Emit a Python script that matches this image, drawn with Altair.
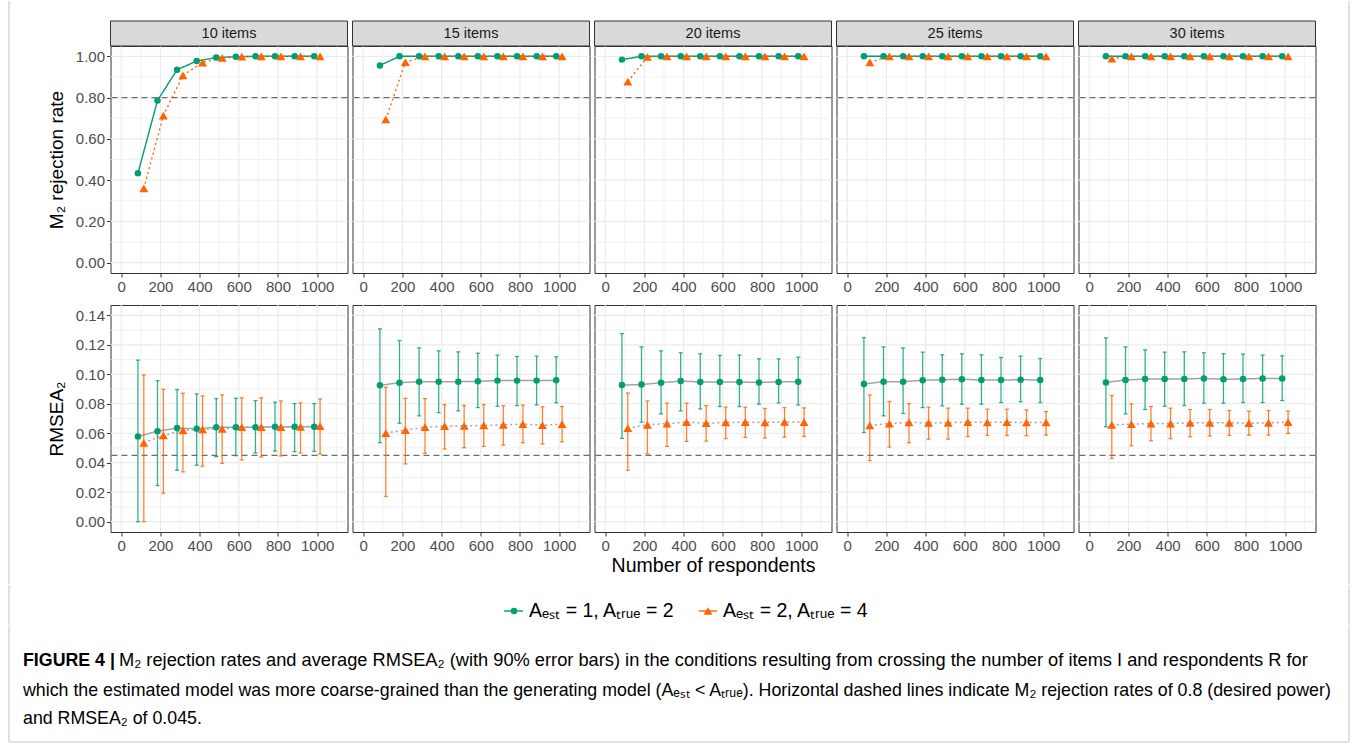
import altair as alt
import pandas as pd

# ---------------- data ----------------
R = [100, 200, 300, 400, 500, 600, 700, 800, 900, 1000]
ITEMS = ["10 items", "15 items", "20 items", "25 items", "30 items"]
SERIES = ["Aₑₛₜ = 1, Aₜᵣᵤₑ = 2", "Aₑₛₜ = 2, Aₜᵣᵤₑ = 4"]

# M2 rejection rate, one row per number of items
M2_S1 = [
    [0.433, 0.786, 0.935, 0.977, 0.994, 0.998, 1.0, 1.0, 1.0, 1.0],
    [0.956, 1.0, 1.0, 1.0, 1.0, 1.0, 1.0, 1.0, 1.0, 1.0],
    [0.984, 1.0, 1.0, 1.0, 1.0, 1.0, 1.0, 1.0, 1.0, 1.0],
    [1.0, 1.0, 1.0, 1.0, 1.0, 1.0, 1.0, 1.0, 1.0, 1.0],
    [1.0, 1.0, 1.0, 1.0, 1.0, 1.0, 1.0, 1.0, 1.0, 1.0],
]
M2_S2 = [
    [0.360, 0.713, 0.908, 0.970, 0.992, 0.998, 1.0, 1.0, 1.0, 1.0],
    [0.694, 0.972, 1.0, 1.0, 1.0, 1.0, 1.0, 1.0, 1.0, 1.0],
    [0.877, 0.997, 1.0, 1.0, 1.0, 1.0, 1.0, 1.0, 1.0, 1.0],
    [0.971, 1.0, 1.0, 1.0, 1.0, 1.0, 1.0, 1.0, 1.0, 1.0],
    [0.989, 1.0, 1.0, 1.0, 1.0, 1.0, 1.0, 1.0, 1.0, 1.0],
]

# average RMSEA2 with 90% interval
RMSEA_S1 = [
    [0.0578, 0.0614, 0.0635, 0.0630, 0.0641, 0.0641, 0.0641, 0.0644, 0.0644, 0.0644],
    [0.0925, 0.0943, 0.0950, 0.0950, 0.0950, 0.0952, 0.0957, 0.0957, 0.0957, 0.0959],
    [0.0927, 0.0930, 0.0943, 0.0954, 0.0948, 0.0948, 0.0948, 0.0945, 0.0948, 0.0950],
    [0.0934, 0.0950, 0.0950, 0.0959, 0.0963, 0.0966, 0.0961, 0.0961, 0.0963, 0.0961],
    [0.0945, 0.0961, 0.0968, 0.0968, 0.0968, 0.0972, 0.0966, 0.0968, 0.0972, 0.0972],
]
RMSEA_S1_LO = [
    [0.0000, 0.0245, 0.0349, 0.0383, 0.0441, 0.0448, 0.0466, 0.0479, 0.0475, 0.0477],
    [0.0536, 0.0668, 0.0718, 0.0740, 0.0752, 0.0774, 0.0783, 0.0788, 0.0792, 0.0806],
    [0.0565, 0.0675, 0.0731, 0.0752, 0.0765, 0.0781, 0.0781, 0.0797, 0.0806, 0.0792],
    [0.0605, 0.0718, 0.0734, 0.0774, 0.0786, 0.0797, 0.0797, 0.0808, 0.0813, 0.0808],
    [0.0644, 0.0731, 0.0761, 0.0783, 0.0788, 0.0804, 0.0804, 0.0808, 0.0808, 0.0822],
]
RMSEA_S1_HI = [
    [0.1096, 0.0957, 0.0896, 0.0867, 0.0835, 0.0837, 0.0821, 0.0810, 0.0801, 0.0801],
    [0.1308, 0.1229, 0.1179, 0.1159, 0.1152, 0.1143, 0.1130, 0.1121, 0.1123, 0.1119],
    [0.1276, 0.1186, 0.1159, 0.1146, 0.1139, 0.1128, 0.1130, 0.1105, 0.1105, 0.1116],
    [0.1249, 0.1186, 0.1179, 0.1150, 0.1132, 0.1139, 0.1132, 0.1114, 0.1123, 0.1107],
    [0.1247, 0.1186, 0.1166, 0.1150, 0.1152, 0.1146, 0.1139, 0.1137, 0.1130, 0.1125],
]
RMSEA_S2 = [
    [0.0535, 0.0585, 0.0619, 0.0626, 0.0630, 0.0641, 0.0641, 0.0641, 0.0644, 0.0648],
    [0.0601, 0.0621, 0.0641, 0.0648, 0.0650, 0.0653, 0.0657, 0.0662, 0.0655, 0.0662],
    [0.0635, 0.0657, 0.0666, 0.0675, 0.0668, 0.0673, 0.0675, 0.0673, 0.0677, 0.0675],
    [0.0653, 0.0666, 0.0673, 0.0671, 0.0671, 0.0675, 0.0673, 0.0675, 0.0673, 0.0673],
    [0.0657, 0.0662, 0.0666, 0.0666, 0.0671, 0.0671, 0.0671, 0.0668, 0.0671, 0.0675],
]
RMSEA_S2_LO = [
    [0.0000, 0.0194, 0.0338, 0.0376, 0.0396, 0.0419, 0.0439, 0.0446, 0.0466, 0.0459],
    [0.0171, 0.0392, 0.0464, 0.0493, 0.0502, 0.0511, 0.0520, 0.0536, 0.0527, 0.0542],
    [0.0349, 0.0461, 0.0511, 0.0545, 0.0547, 0.0563, 0.0572, 0.0567, 0.0574, 0.0578],
    [0.0414, 0.0506, 0.0536, 0.0560, 0.0560, 0.0578, 0.0585, 0.0585, 0.0583, 0.0587],
    [0.0430, 0.0515, 0.0549, 0.0563, 0.0576, 0.0581, 0.0585, 0.0587, 0.0587, 0.0599],
]
RMSEA_S2_HI = [
    [0.0995, 0.0898, 0.0871, 0.0853, 0.0860, 0.0840, 0.0840, 0.0819, 0.0806, 0.0833],
    [0.0912, 0.0837, 0.0835, 0.0795, 0.0788, 0.0795, 0.0786, 0.0790, 0.0779, 0.0781],
    [0.0873, 0.0819, 0.0804, 0.0804, 0.0788, 0.0777, 0.0777, 0.0768, 0.0774, 0.0772],
    [0.0860, 0.0815, 0.0801, 0.0777, 0.0770, 0.0770, 0.0763, 0.0763, 0.0758, 0.0747],
    [0.0855, 0.0799, 0.0781, 0.0770, 0.0761, 0.0761, 0.0754, 0.0750, 0.0754, 0.0750],
]

M2_REF = [0.8]
RMSEA_REF = [0.045]

X_MAJOR = [0, 200, 400, 600, 800, 1000]
X_MINOR = [100, 300, 500, 700, 900, 1100]
M2_MAJOR = [0.0, 0.2, 0.4, 0.6, 0.8, 1.0]
M2_MINOR = [0.1, 0.3, 0.5, 0.7, 0.9]
RMSEA_MAJOR = [0.0, 0.02, 0.04, 0.06, 0.08, 0.10, 0.12, 0.14]
RMSEA_MINOR = [0.01, 0.03, 0.05, 0.07, 0.09, 0.11, 0.13]

CAPTION_BOLD = "FIGURE 4 |"
CAPTION_LINES = [
    "M₂ rejection rates and average RMSEA₂ (with 90% error bars) in the conditions resulting from crossing the number of items I and respondents R for",
    "which the estimated model was more coarse-grained than the generating model (Aₑₛₜ < Aₜᵣᵤₑ). Horizontal dashed lines indicate M₂ rejection rates of 0.8 (desired power)",
    "and RMSEA₂ of 0.045.",
]

# ---------------- style ----------------
GREEN = "#009E73"
ORANGE = "#FF6400"
DODGE = [-15, 15]
W = 237
H = 227
ROW_W = 5 * W + 4 * 5
STRIP_H = 25
FONT = "Liberation Sans"
LABEL_FS = 15
CAP_X = -87.5          # caption left edge relative to the first panel
CAP_FS = [18.25, 17.8, 17.8]
FRAME_C = "#C4C4C4"
FRAME_L = -101.5       # figure frame, left edge relative to the first panel
FRAME_R = 1238.5       # figure frame, right edge relative to the first panel
FRAME_R_P5 = 270.5     # same right edge relative to the fifth panel

rows = []
for i, item in enumerate(ITEMS):
    packs = [
        (M2_S1, RMSEA_S1, RMSEA_S1_LO, RMSEA_S1_HI),
        (M2_S2, RMSEA_S2, RMSEA_S2_LO, RMSEA_S2_HI),
    ]
    for s, (m2, mean, lo, hi) in enumerate(packs):
        for j, r in enumerate(R):
            rows.append({
                "items": item, "series": SERIES[s], "R": r,
                "xpos": r + DODGE[s], "m2": m2[i][j],
                "rmsea": mean[i][j], "lo": lo[i][j], "hi": hi[i][j],
            })
df = pd.DataFrame(rows)

xscale = alt.Scale(domain=[-55, 1155], nice=False, zero=False)
color_scale = alt.Scale(domain=SERIES, range=[GREEN, ORANGE])
dash_scale = alt.Scale(domain=SERIES, range=[[1, 0], [2, 3]])
shape_scale = alt.Scale(domain=SERIES, range=["circle", "triangle-up"])
size_scale = alt.Scale(domain=SERIES, range=[42, 80])
ONE = pd.DataFrame({"a": [0]})


def vframe(x, y1, y2):
    return alt.Chart(ONE).mark_rule(color=FRAME_C, strokeWidth=1, strokeJoin="bevel").encode(
        x=alt.value(x), y=alt.value(y1), y2=alt.value(y2))


def make_panel(i, kind):
    d = df[df["items"] == ITEMS[i]]
    if kind == "m2":
        yscale = alt.Scale(domain=[-0.05, 1.05], nice=False, zero=False)
        ymaj, ymin, ref, yfield = M2_MAJOR, M2_MINOR, M2_REF, "m2"
        ytitle = "M₂ rejection rate"
        fy1, fy2 = -45, H + 28
    else:
        yscale = alt.Scale(domain=[-0.007, 0.147], nice=False, zero=False)
        ymaj, ymin, ref, yfield = RMSEA_MAJOR, RMSEA_MINOR, RMSEA_REF, "rmsea"
        ytitle = "RMSEA₂"
        fy1, fy2 = -4, H + 52

    xtitle = "Number of respondents" if (kind == "rmsea" and i == 2) else None
    xaxis = alt.Axis(values=X_MAJOR, format="d", grid=False, domain=False,
                     tickSize=4, tickColor="#333333", labelColor="#4D4D4D",
                     labelFontSize=LABEL_FS, labelPadding=2, title=xtitle,
                     titleFontSize=19.5, titleFontWeight="normal",
                     titleColor="#000000", titlePadding=3)
    if i == 0:
        yaxis = alt.Axis(values=ymaj, format=".2f", grid=False, domain=False,
                         tickSize=4, tickColor="#333333", labelColor="#4D4D4D",
                         labelFontSize=LABEL_FS, labelPadding=2, title=ytitle,
                         titleFontSize=19, titleFontWeight="normal",
                         titleColor="#000000", titlePadding=9)
    else:
        yaxis = None

    X = lambda f: alt.X(f, scale=xscale, axis=xaxis)
    Y = lambda f: alt.Y(f, scale=yscale, axis=yaxis)

    layers = [
        alt.Chart(pd.DataFrame({"g": X_MINOR})).mark_rule(color="#EDEDED", strokeWidth=0.7).encode(x=X("g:Q")),
        alt.Chart(pd.DataFrame({"g": X_MAJOR})).mark_rule(color="#EBEBEB", strokeWidth=1.2).encode(x=X("g:Q")),
        alt.Chart(pd.DataFrame({"g": ymin})).mark_rule(color="#EDEDED", strokeWidth=0.7).encode(y=Y("g:Q")),
        alt.Chart(pd.DataFrame({"g": ymaj})).mark_rule(color="#EBEBEB", strokeWidth=1.2).encode(y=Y("g:Q")),
        alt.Chart(pd.DataFrame({"g": ref})).mark_rule(color="#6E6E6E", strokeWidth=1.1, strokeDash=[6, 4]).encode(y=Y("g:Q")),
    ]
    base = alt.Chart(d)
    if kind == "m2":
        layers.append(base.mark_line(strokeWidth=1.4).encode(
            x=X("xpos:Q"), y=Y(f"{yfield}:Q"),
            color=alt.Color("series:N", scale=color_scale, legend=None),
            strokeDash=alt.StrokeDash("series:N", scale=dash_scale, legend=None),
            detail="series:N"))
    else:
        layers.append(base.mark_line(strokeWidth=1.5, color="#A3A3A3").encode(
            x=X("xpos:Q"), y=Y(f"{yfield}:Q"),
            strokeDash=alt.StrokeDash("series:N", scale=dash_scale, legend=None),
            detail="series:N"))
        layers.append(base.mark_rule(strokeWidth=1.3, opacity=0.8).encode(
            x=X("xpos:Q"), y=Y("lo:Q"), y2="hi:Q",
            color=alt.Color("series:N", scale=color_scale, legend=None)))
        for f in ["lo", "hi"]:
            layers.append(base.mark_tick(orient="horizontal", size=4, thickness=1.3, opacity=0.8).encode(
                x=X("xpos:Q"), y=Y(f"{f}:Q"),
                color=alt.Color("series:N", scale=color_scale, legend=None)))
    layers.append(base.mark_point(filled=True, opacity=1).encode(
        x=X("xpos:Q"), y=Y(f"{yfield}:Q"),
        color=alt.Color("series:N", scale=color_scale, legend=None),
        shape=alt.Shape("series:N", scale=shape_scale, legend=None),
        size=alt.Size("series:N", scale=size_scale, legend=None)))

    if kind == "m2":
        one = pd.DataFrame({"label": [ITEMS[i]]})
        layers.append(alt.Chart(one).mark_rect(fill="#D9D9D9", stroke="#333333", strokeWidth=1).encode(
            x=alt.value(0), x2=alt.value(W), y=alt.value(-STRIP_H), y2=alt.value(0)))
        layers.append(alt.Chart(one).mark_text(fontSize=14.5, color="#1A1A1A", baseline="middle", align="center").encode(
            text="label:N", x=alt.value(W / 2), y=alt.value(-STRIP_H / 2)))
    # figure frame pieces
    if i == 0:
        layers.append(vframe(FRAME_L, fy1, fy2))
    if i == 4:
        layers.append(vframe(FRAME_R_P5, fy1, fy2))
    return alt.layer(*layers).properties(width=W, height=H)


top_row = alt.hconcat(*[make_panel(i, "m2") for i in range(5)], spacing=1)
bottom_row = alt.hconcat(*[make_panel(i, "rmsea") for i in range(5)], spacing=1)

# ---------------- legend (positions relative to the first panel's left edge) ----------------
LEG_H = 40
LEG_Y = 26
leg_items = [(393.5, 412.5, 403.5, 418.5, GREEN, "circle", 42),
             (588.5, 606.5, 597.5, 612.5, ORANGE, "triangle-up", 80)]
leg_layers = [vframe(FRAME_L, 0, LEG_H), vframe(FRAME_R, 0, LEG_H)]
for k, (xa, xb, xp, xt, col, shp, sz) in enumerate(leg_items):
    one = pd.DataFrame({"series": [SERIES[k]]})
    leg_layers.append(alt.Chart(one).mark_rule(color=col, strokeWidth=1.4).encode(
        x=alt.value(xa), x2=alt.value(xb), y=alt.value(LEG_Y)))
    leg_layers.append(alt.Chart(one).mark_point(filled=True, opacity=1, color=col, shape=shp, size=sz).encode(
        x=alt.value(xp), y=alt.value(LEG_Y)))
    leg_layers.append(alt.Chart(one).mark_text(fontSize=19.5, align="left", baseline="middle", color="#000000").encode(
        text="series:N", x=alt.value(xt), y=alt.value(LEG_Y)))
legend = alt.layer(*leg_layers).properties(width=ROW_W, height=LEG_H,
                                           view=alt.ViewBackground(strokeOpacity=0))

# ---------------- caption ----------------
CAP_H = 116
CAP_Y = [40, 70, 98]
cap_layers = [
    vframe(FRAME_L, 0, CAP_H), vframe(FRAME_R, 0, CAP_H),
    alt.Chart(ONE).mark_rule(color=FRAME_C, strokeWidth=1, strokeJoin="bevel").encode(
        x=alt.value(FRAME_L), x2=alt.value(FRAME_R), y=alt.value(CAP_H)),
    alt.Chart(pd.DataFrame({"t": [CAPTION_BOLD]})).mark_text(
        fontSize=CAP_FS[1], fontWeight="bold", align="left", baseline="alphabetic", color="#000000").encode(
        text="t:N", x=alt.value(CAP_X), y=alt.value(CAP_Y[0])),
]
for k, line in enumerate(CAPTION_LINES):
    cap_layers.append(alt.Chart(pd.DataFrame({"t": [line]})).mark_text(
        fontSize=CAP_FS[k], align="left", baseline="alphabetic", color="#000000").encode(
        text="t:N", x=alt.value(CAP_X + (96 if k == 0 else 0)), y=alt.value(CAP_Y[k])))
caption = alt.layer(*cap_layers).properties(width=ROW_W, height=CAP_H,
                                            view=alt.ViewBackground(strokeOpacity=0))

chart = alt.vconcat(top_row, bottom_row, legend, caption, spacing=-2).properties(
    padding={"left": 7.5, "top": 0, "right": 5, "bottom": 3}
).configure(font=FONT).configure_view(stroke="#333333", strokeWidth=1)

chart.save("out.html", embed_options={"renderer": "svg", "actions": False})
